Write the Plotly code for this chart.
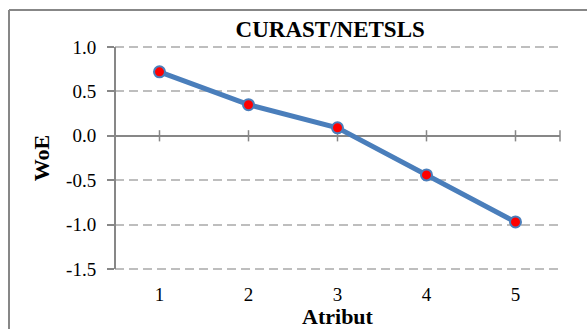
import plotly.graph_objects as go

# Weight of Evidence per attribute bin
atribut = [1, 2, 3, 4, 5]
woe = [0.72, 0.35, 0.09, -0.44, -0.97]

# y-axis ticks
y_ticks = [-1.5, -1.0, -0.5, 0.0, 0.5, 1.0]
y_ticklabels = ["-1.5", "-1.0", "-0.5", "0.0", "0.5", "1.0"]

# tick marks crossing the zero line (categories plus right end)
axis_marks = atribut + [5.5]

AXIS_GRAY = "#878787"
GRID_GRAY = "#BEBEBE"
LINE_BLUE = "#4A7EBB"
SERIF = "Liberation Serif"

fig = go.Figure()

fig.add_trace(go.Scatter(
    x=axis_marks,
    y=[0] * len(axis_marks),
    mode="markers",
    marker=dict(symbol="line-ns", size=8, line=dict(color=AXIS_GRAY, width=1.5)),
    cliponaxis=False,
    hoverinfo="skip",
    showlegend=False,
))

fig.add_trace(go.Scatter(
    x=atribut,
    y=woe,
    mode="lines+markers",
    line=dict(color=LINE_BLUE, width=5),
    marker=dict(size=11, color="#FF0000", line=dict(color=LINE_BLUE, width=2)),
    showlegend=False,
))

fig.update_layout(
    width=587,
    height=329,
    margin=dict(l=115, r=27, t=45, b=58, autoexpand=False),
    paper_bgcolor="white",
    plot_bgcolor="white",
    font=dict(family=SERIF, size=19, color="black"),
    title=dict(
        text="<b>CURAST/NETSLS</b>",
        font=dict(family=SERIF, size=23, color="black"),
        x=0.5625, xref="container", xanchor="center",
        y=0.937, yref="container", yanchor="top",
        pad=dict(t=0, b=0),
        automargin=False,
    ),
    xaxis=dict(
        range=[0.5, 5.5],
        tickvals=atribut,
        ticktext=[str(a) for a in atribut],
        showgrid=False,
        zeroline=False,
        showline=False,
        automargin=False,
        ticks="outside",
        ticklen=6,
        tickcolor="rgba(0,0,0,0)",
        tickfont=dict(family=SERIF, size=19),
        title=dict(text="<b>Atribut</b>", font=dict(family=SERIF, size=22), standoff=12),
    ),
    yaxis=dict(
        range=[-1.522, 1.022],
        tickvals=y_ticks,
        ticktext=y_ticklabels,
        showgrid=True,
        gridcolor=GRID_GRAY,
        gridwidth=1.5,
        griddash="9px,5px",
        zeroline=True,
        zerolinecolor=AXIS_GRAY,
        zerolinewidth=2,
        showline=False,
        automargin=False,
        ticks="outside",
        ticklen=7,
        tickwidth=1.5,
        tickcolor=AXIS_GRAY,
        ticklabelstandoff=7,
        tickfont=dict(family=SERIF, size=19),
        title=dict(text="<b>WoE</b>", font=dict(family=SERIF, size=22), standoff=10),
    ),
    shapes=[
        # outer chart frame: left and top edges (the others run off the page)
        dict(
            type="line", xref="paper", yref="paper",
            x0=-0.2382, x1=-0.2382, y0=-0.5, y1=1.155,
            line=dict(color=AXIS_GRAY, width=2),
            layer="above",
        ),
        dict(
            type="line", xref="paper", yref="paper",
            x0=-0.2382, x1=1.3, y0=1.155, y1=1.155,
            line=dict(color=AXIS_GRAY, width=2),
            layer="above",
        ),
        # vertical axis line spanning the tick range
        dict(
            type="line", xref="paper", yref="y",
            x0=0, x1=0, y0=y_ticks[0], y1=y_ticks[-1],
            line=dict(color=AXIS_GRAY, width=2),
            layer="above",
        ),
    ],
)

fig.write_html("out.html")
